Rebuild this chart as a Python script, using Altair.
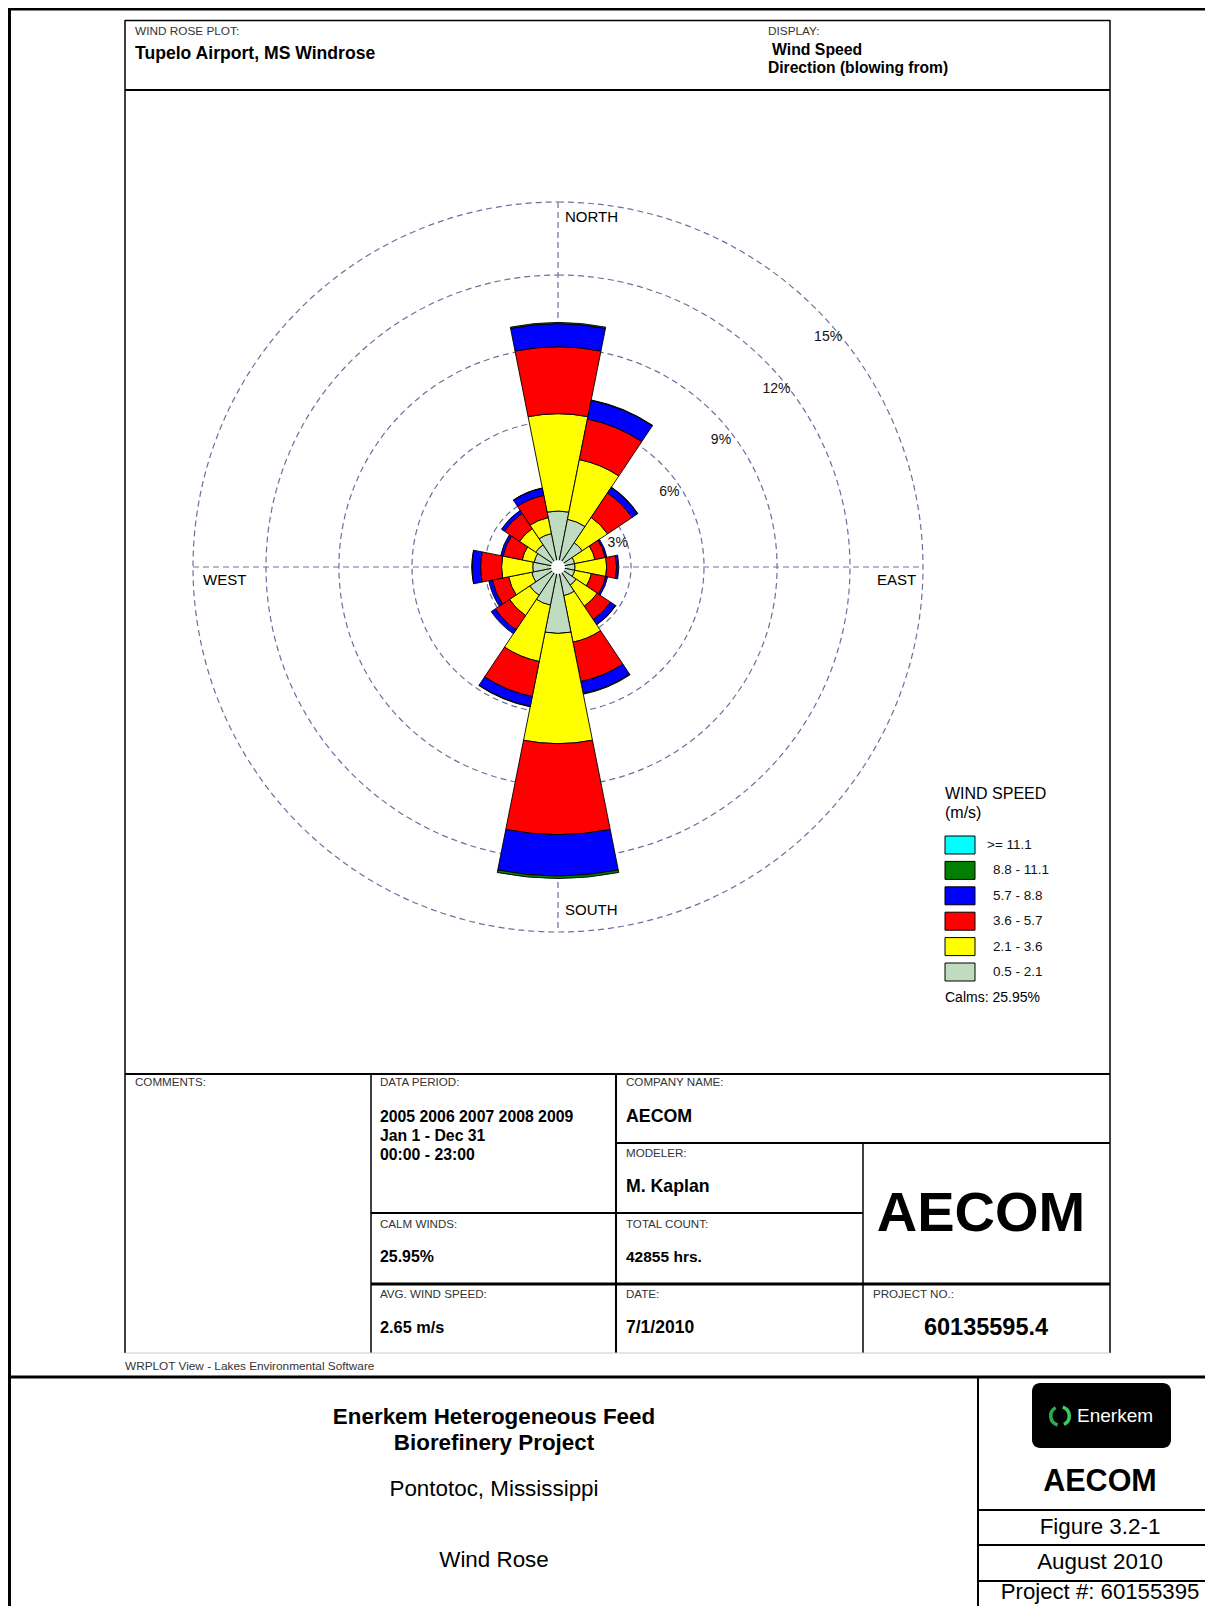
import math
import altair as alt
import pandas as pd

# ---------------- data ----------------
DIRECTIONS = ["N", "NNE", "NE", "ENE", "E", "ESE", "SE", "SSE",
              "S", "SSW", "SW", "WSW", "W", "WNW", "NW", "NNW"]
DIR_ANGLES = [0, 22.5, 45, 67.5, 90, 112.5, 135, 157.5,
              180, 202.5, 225, 247.5, 270, 292.5, 315, 337.5]
SPEED_CLASSES = ["0.5 - 2.1", "2.1 - 3.6", "3.6 - 5.7", "5.7 - 8.8", "8.8 - 11.1", ">= 11.1"]
CLASS_COLORS = ["#C0DCC0", "#FFFF00", "#FF0000", "#0000FF", "#007F00", "#00FFFF"]

# frequency (%) per direction for each speed class
PCT_05_21 = [2.30, 2.00, 1.20, 0.70, 0.70, 0.70, 0.90, 1.20, 2.73, 1.60, 1.40, 1.10, 1.04, 1.00, 1.10, 1.40]
PCT_21_36 = [4.00, 2.50, 1.25, 0.85, 1.30, 0.70, 1.04, 1.95, 4.53, 2.36, 1.00, 0.97, 1.28, 0.50, 0.80, 0.67]
PCT_36_57 = [2.75, 1.70, 1.21, 0.43, 0.41, 0.60, 0.66, 1.65, 3.74, 1.47, 0.70, 0.68, 0.86, 0.80, 0.75, 0.93]
PCT_57_88 = [0.95, 0.78, 0.27, 0.07, 0.09, 0.08, 0.25, 0.50, 1.70, 0.41, 0.20, 0.15, 0.35, 0.10, 0.15, 0.30]
PCT_88_111 = [0.05, 0.02, 0.02, 0.00, 0.00, 0.00, 0.01, 0.03, 0.10, 0.02, 0.00, 0.00, 0.01, 0.00, 0.00, 0.01]
PCT_GE_111 = [0.00, 0.00, 0.00, 0.00, 0.00, 0.00, 0.00, 0.00, 0.00, 0.00, 0.00, 0.00, 0.00, 0.00, 0.00, 0.00]
SERIES = [PCT_05_21, PCT_21_36, PCT_36_57, PCT_57_88, PCT_88_111, PCT_GE_111]

RING_PCTS = [3, 6, 9, 12, 15]
RING_LABELS = ["3%", "6%", "9%", "12%", "15%"]
COMPASS = ["NORTH", "EAST", "SOUTH", "WEST"]
CALMS_TEXT = "Calms: 25.95%"

# ---------------- layout ----------------
OFF = 8                      # page margin
W, H = 1197, 1598
FONT = "Liberation Sans"
CX, CY = 558 - OFF, 567 - OFF  # rose centre
RMAX = 365                     # radius of 15 % ring in px
HALF = 11.25                   # half sector width (deg)
RING_COLOR = "#6E6E9E"

r_scale = alt.Scale(type="linear", domain=[0, 15], range=[0, RMAX], zero=True)
t_scale = alt.Scale(type="linear", domain=[0, 360], range=[0, 2 * math.pi])
c_scale = alt.Scale(domain=SPEED_CLASSES, range=CLASS_COLORS)

rows = []
for i, d in enumerate(DIRECTIONS):
    for k, s in enumerate(SERIES):
        rows.append({"dir": d, "angle": DIR_ANGLES[i], "cls": SPEED_CLASSES[k],
                     "order": k, "value": s[i]})
rose_df = pd.DataFrame(rows)

rings_df = pd.DataFrame({"pct": RING_PCTS, "label": RING_LABELS})


def P(v):
    return v - OFF


def text_layer(items, align="left", weight="normal", color="black", font=FONT):
    df = pd.DataFrame([{"x": P(x), "y": P(y), "text": t, "size": s} for (x, y, t, s) in items])
    return alt.Chart(df).mark_text(
        align=align, baseline="middle", fontWeight=weight, color=color, font=font
    ).encode(
        x=alt.X("x:Q", scale=None),
        y=alt.Y("y:Q", scale=None),
        text="text:N",
        size=alt.Size("size:Q", scale=None),
    )


# ---------------- frame ----------------
FRAME = [
    (8, 9, 1213, 9, 3), (9.5, 8, 9.5, 1614, 3),
    (9, 1377, 1213, 1377, 3), (978, 1377, 978, 1614, 2),
    (978, 1510, 1213, 1510, 2), (978, 1545, 1213, 1545, 2), (978, 1581, 1213, 1581, 2),
    (125, 20.5, 1110, 20.5, 1.5), (125, 20, 125, 1353, 1.5), (1110, 20, 1110, 1353, 1.5),
    (125, 90, 1110, 90, 2), (125, 1074, 1110, 1074, 2),
    (371, 1074, 371, 1353, 1.5), (616, 1074, 616, 1353, 2),
    (616, 1143, 1110, 1143, 2), (863, 1143, 863, 1353, 1.5),
    (371, 1213, 863, 1213, 2), (371, 1284, 1110, 1284, 3),
]
frame_df = pd.DataFrame([{"x": P(a), "y": P(b), "x2": P(c), "y2": P(d), "w": w}
                         for (a, b, c, d, w) in FRAME])
frame = alt.Chart(frame_df).mark_rule(color="black").encode(
    x=alt.X("x:Q", scale=None), y=alt.Y("y:Q", scale=None),
    x2="x2:Q", y2="y2:Q", strokeWidth=alt.StrokeWidth("w:Q", scale=None))

bottom_line = alt.Chart(pd.DataFrame({"a": [0]})).mark_rule(color="#cccccc", strokeWidth=1).encode(
    x=alt.value(P(125)), x2=alt.value(P(1110)), y=alt.value(P(1353)))

# ---------------- rose ----------------
axes_df = pd.DataFrame({"x": [CX, CX - RMAX], "y": [CY - RMAX, CY],
                        "x2": [CX, CX + RMAX], "y2": [CY + RMAX, CY]})
axes = alt.Chart(axes_df).mark_rule(color=RING_COLOR, strokeDash=[6, 4], strokeWidth=1.2).encode(
    x=alt.X("x:Q", scale=None), y=alt.Y("y:Q", scale=None), x2="x2:Q", y2="y2:Q")

rings = alt.Chart(rings_df).mark_arc(filled=False, stroke=RING_COLOR, strokeDash=[6, 4],
                                     strokeWidth=1.2).encode(
    x=alt.value(CX), y=alt.value(CY),
    theta=alt.value(0), theta2=alt.value(2 * math.pi),
    radius=alt.Radius("pct:Q", scale=r_scale, stack=False))

rose = alt.Chart(rose_df).transform_filter("datum.value > 0").transform_stack(
    stack="value", groupby=["dir"], sort=[alt.SortField("order", order="ascending")], as_=["r0", "r1"]
).transform_calculate(
    t0=f"datum.angle - {HALF}", t1=f"datum.angle + {HALF}"
).mark_arc(stroke="black", strokeWidth=0.9).encode(
    x=alt.value(CX), y=alt.value(CY),
    theta=alt.Theta("t0:Q", scale=t_scale, stack=False), theta2="t1:Q",
    radius=alt.Radius("r1:Q", scale=r_scale, stack=False), radius2="r0:Q",
    color=alt.Color("cls:N", scale=c_scale, legend=None))

calm = alt.Chart(pd.DataFrame({"a": [0]})).mark_arc(color="white").encode(
    x=alt.value(CX), y=alt.value(CY), theta=alt.value(0), theta2=alt.value(2 * math.pi),
    radius=alt.value(7))

pct_labels = alt.Chart(rings_df).mark_text(align="left", baseline="middle", dx=-2, dy=28,
                                           fontSize=14, font=FONT, color="#111").encode(
    x=alt.value(CX), y=alt.value(CY), theta=alt.value(math.pi / 4),
    radius=alt.Radius("pct:Q", scale=r_scale, stack=False), text="label:N")

compass = text_layer([(565, 217, COMPASS[0], 15), (877, 580, COMPASS[1], 15),
                      (565, 910, COMPASS[2], 15), (203, 580, COMPASS[3], 15)])

# ---------------- legend ----------------
LEG_X, LEG_Y0, LEG_DY = 945, 845, 25.4
leg_rows = []
for j, k in enumerate(reversed(range(len(SPEED_CLASSES)))):
    yc = P(LEG_Y0 + j * LEG_DY)
    leg_rows.append({"cls": SPEED_CLASSES[k], "ly": yc - 9, "ly2": yc + 9,
                     "ty": yc, "tx": P(987 if j == 0 else 993)})
leg_df = pd.DataFrame(leg_rows)
leg_rects = alt.Chart(leg_df).mark_rect(stroke="black", strokeWidth=1).encode(
    x=alt.value(P(LEG_X)), x2=alt.value(P(LEG_X + 30)),
    y=alt.Y("ly:Q", scale=None), y2="ly2:Q",
    color=alt.Color("cls:N", scale=c_scale, legend=None))
leg_text = alt.Chart(leg_df).mark_text(align="left", baseline="middle", fontSize=13.5,
                                       font=FONT, color="#111").encode(
    x=alt.X("tx:Q", scale=None), y=alt.Y("ty:Q", scale=None), text="cls:N")
leg_title = text_layer([(945, 794, "WIND SPEED", 16), (945, 813, "(m/s)", 16),
                        (945, 998, CALMS_TEXT, 14)])

# ---------------- texts ----------------
small_labels = text_layer([
    (135, 31, "WIND ROSE PLOT:", 11.8), (768, 31, "DISPLAY:", 11.8),
    (135, 1083, "COMMENTS:", 11.6), (380, 1083, "DATA PERIOD:", 11.6),
    (626, 1083, "COMPANY NAME:", 11.6), (626, 1154, "MODELER:", 11.6),
    (380, 1225, "CALM WINDS:", 11.6), (626, 1225, "TOTAL COUNT:", 11.6),
    (380, 1295, "AVG. WIND SPEED:", 11.6), (626, 1295, "DATE:", 11.6),
    (873, 1295, "PROJECT NO.:", 11.6),
    (125, 1366, "WRPLOT View - Lakes Environmental Software", 11.8),
], color="#333")

bold_left = text_layer([
    (135, 54, "Tupelo Airport, MS Windrose", 17.6),
    (772, 49.5, "Wind Speed", 15.8), (768, 68, "Direction (blowing from)", 15.6),
    (380, 1117, "2005 2006 2007 2008 2009", 15.8), (380, 1136, "Jan 1 - Dec 31", 15.8),
    (380, 1155, "00:00  -  23:00", 15.8),
    (626, 1117, "AECOM", 17.8), (626, 1187, "M. Kaplan", 17.7),
    (380, 1257, "25.95%", 15.9), (626, 1257, "42855 hrs.", 15.5),
    (380, 1328, "2.65 m/s", 16.3), (626, 1328, "7/1/2010", 17.5),
], weight="bold")

bold_center = text_layer([
    (986, 1328, "60135595.4", 23.5),
    (981, 1214, "AECOM", 56),
    (494, 1417, "Enerkem Heterogeneous Feed", 22.4),
    (494, 1443, "Biorefinery Project", 22.4),
    (1100, 1482, "AECOM", 30.5),
], align="center", weight="bold")

reg_center = text_layer([
    (494, 1489, "Pontotoc, Mississippi", 22.4),
    (494, 1560, "Wind Rose", 22.4),
    (1100, 1527, "Figure 3.2-1", 22.4),
    (1100, 1562, "August 2010", 22.4),
    (1100, 1592, "Project #: 60155395", 22.2),
], align="center")

# Enerkem badge
one = pd.DataFrame({"a": [0]})
badge = alt.Chart(one).mark_rect(color="black", cornerRadius=8).encode(
    x=alt.value(P(1032)), x2=alt.value(P(1171)), y=alt.value(P(1383)), y2=alt.value(P(1448)))
swirl1 = alt.Chart(one).mark_arc(color="#3CCB5E").encode(
    x=alt.value(P(1060)), y=alt.value(P(1416)), theta=alt.value(0.3), theta2=alt.value(2.7),
    radius=alt.value(11), radius2=alt.value(7.5))
swirl2 = alt.Chart(one).mark_arc(color="#2FA84F").encode(
    x=alt.value(P(1060)), y=alt.value(P(1416)), theta=alt.value(3.4), theta2=alt.value(5.8),
    radius=alt.value(11), radius2=alt.value(7.5))
badge_text = text_layer([(1077, 1416, "Enerkem", 19)], color="white")

chart = alt.layer(
    frame, bottom_line, axes, rings, rose, calm, pct_labels, compass,
    leg_rects, leg_text, leg_title, small_labels, bold_left, bold_center, reg_center,
    badge, swirl1, swirl2, badge_text,
).properties(
    width=W, height=H, padding=0, autosize=alt.AutoSizeParams(type="none")
).configure_view(strokeWidth=0).configure(font=FONT)

chart.save("out.html", embed_options={"renderer": "svg", "actions": False})
